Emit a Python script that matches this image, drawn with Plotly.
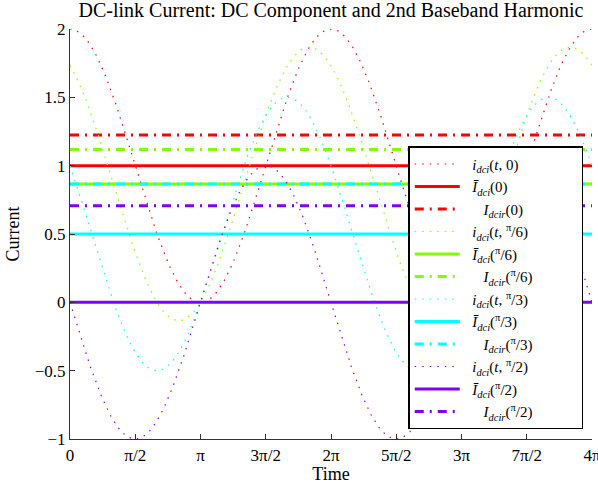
import numpy as np
import plotly.graph_objects as go

# Data
phases = [0, np.pi/6, np.pi/3, np.pi/2]
phase_labels = ["0", "<sup>π</sup>/6", "<sup>π</sup>/3", "<sup>π</sup>/2"]
colors = ["#FF0000", "#80FF00", "#00FFFF", "#8000FF"]
t = np.linspace(0, 4*np.pi, 400)
tick_vals = [i*np.pi/2 for i in range(9)]
tick_text = ["0", "π/2", "π", "3π/2", "2π", "5π/2", "3π", "7π/2", "4π"]
y_ticks = [-1, -0.5, 0, 0.5, 1, 1.5, 2]
y_tick_text = ["−1", "−0.5", "0", "0.5", "1", "1.5", "2"]

FONT = "Liberation Serif"
PAD = "&nbsp;" * 13
fig = go.Figure()
for ph, lab, c in zip(phases, phase_labels, colors):
    i_t = np.cos(ph) + np.cos(t + ph)
    mean = np.cos(ph)
    rms = np.sqrt(np.cos(ph)**2 + 0.5)
    fig.add_trace(go.Scatter(x=t, y=i_t, mode="lines",
                             line=dict(color=c, width=1.2, dash="1.5px,6px"),
                             name=f"&nbsp;&nbsp;<i>i</i><sub><i>dci</i></sub>(<i>t</i>, {lab}){PAD}"))
    fig.add_trace(go.Scatter(x=[0, 4*np.pi], y=[mean, mean], mode="lines",
                             line=dict(color=c, width=3),
                             name=f"&nbsp;&nbsp;<i>Ī</i><sub><i>dci</i></sub>({lab})"))
    fig.add_trace(go.Scatter(x=[0, 4*np.pi], y=[rms, rms], mode="lines",
                             line=dict(color=c, width=3, dash="9px,6px,2px,6px"),
                             name=f"&nbsp;&nbsp;&nbsp;&nbsp;&nbsp;<i>I</i><sub><i>dcir</i></sub>({lab})"))

fig.update_layout(
    width=598, height=491,
    margin=dict(l=70, r=6, t=29, b=52),
    paper_bgcolor="white", plot_bgcolor="white",
    font=dict(family=FONT, size=16, color="black"),
    title=dict(text="DC-link Current: DC Component and 2nd Baseband Harmonic",
               xref="paper", x=0.5, xanchor="center", y=0.994, yanchor="top",
               font=dict(family=FONT, size=20)),
    legend=dict(x=0.648, y=0.714, xanchor="left", yanchor="top",
                bgcolor="white", bordercolor="black", borderwidth=1.5,
                font=dict(family=FONT, size=15), tracegroupgap=0,
                itemwidth=45),
    showlegend=True,
)
fig.update_xaxes(range=[0, 4*np.pi], tickvals=tick_vals, ticktext=tick_text,
                 showgrid=False, zeroline=False, showline=True, linecolor="#333",
                 linewidth=1.2, ticks="inside", ticklen=5, tickcolor="#333",
                 ticklabeloverflow="allow", automargin=False,
                 tickfont=dict(size=17), title=dict(text="Time", standoff=2,
                 font=dict(size=18)))
fig.update_yaxes(range=[-1, 2], tickvals=y_ticks, ticktext=y_tick_text,
                 showgrid=False, zeroline=False, showline=True, linecolor="#333",
                 linewidth=1.2, ticks="inside", ticklen=5, tickcolor="#333",
                 tickfont=dict(size=17), title=dict(text="Current", standoff=10,
                 font=dict(size=18)))
fig.write_html("out.html")
